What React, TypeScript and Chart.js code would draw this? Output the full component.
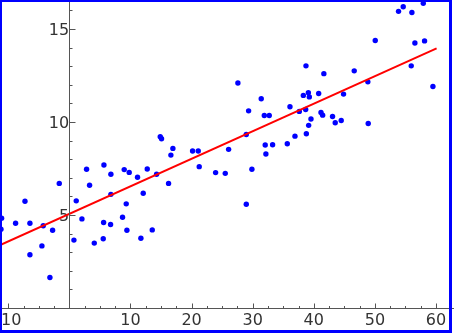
import React, { useEffect, useRef } from "react";
import { Chart, registerables } from "chart.js";

Chart.register(...registerables);

const xValues = [
  -11.1, -11.2, -8.81, -7.27, -6.46, -6.46, -4.28, -4.5, -3.19, -2.75, -1.66,
  0.74, 1.12, 2.05, 2.81, 3.3, 4.07, 5.65, 5.6, 5.54, 6.79, 6.79, 6.74, 8.7,
  8.97, 9.3, 9.41, 9.79, 11.15, 11.7, 12.08, 12.74, 13.56, 14.27, 14.87, 15.08,
  16.23, 16.61, 16.94, 20.16, 21.09, 21.25, 23.93, 25.51, 26.06, 27.58, 28.95,
  28.95, 29.33, 29.87, 31.4, 31.9, 32.05, 32.16, 32.71, 33.26, 35.66, 36.1,
  36.92, 37.63, 38.29, 38.67, 38.72, 38.78, 39.11, 39.27, 39.16, 39.54, 40.8,
  41.18, 41.45, 41.65, 43.07, 43.51, 44.49, 44.87, 46.62, 48.85, 48.91, 50.06,
  53.87, 54.64, 56.06, 55.95, 56.55, 57.92, 58.13, 59.5,
];
const yValues = [
  4.83, 4.24, 4.56, 5.74, 4.56, 2.86, 4.42, 3.34, 1.64, 4.18, 6.7,
  3.65, 5.76, 4.79, 7.46, 6.6, 3.49, 7.69, 4.6, 3.72, 7.19, 6.11, 4.49, 4.88,
  7.44, 5.6, 4.18, 7.29, 7.03, 3.75, 6.17, 7.47, 4.2, 7.19, 9.21, 9.1,
  6.7, 8.22, 8.58, 8.44, 8.44, 7.6, 7.28, 7.24, 8.53, 12.1, 9.33,
  5.58, 10.6, 7.46, 11.25, 10.35, 8.76, 8.28, 10.35, 8.78, 8.83, 10.82,
  9.24, 10.57, 11.43, 10.67, 13.02, 9.37, 11.57, 11.35, 9.82, 10.16, 11.53,
  10.51, 10.37, 12.6, 10.3, 9.96, 10.08, 11.5, 12.75, 12.16, 9.92, 14.38,
  15.95, 16.2, 15.89, 13.02, 14.25, 16.38, 14.36, 11.91,
];

// Regression line end points
const fitX = [-12, 60.1];
const fitY = [3.29, 13.96];

// Axes
const xTickValues = [-10, 10, 20, 30, 40, 50, 60];
const xTickLabels = ["-10", "10", "20", "30", "40", "50", "60"];
const yTickValues = [5, 10, 15];
const yTickLabels = ["5", "10", "15"];
const xRange = [-11.36, 62.95];
const yRange = [0, 16.56];
const yLabelAnchorX = -0.03; // y labels sit just left of the x = 0 spine

const AXIS = "#555555";
const TEXT = "#333333";

const innerTicks = {
  id: "innerTicks",
  afterDraw(chart: any) {
    const ctx = chart.ctx;
    const xs = chart.scales.x;
    const ys = chart.scales.y;
    const area = chart.chartArea;
    const x0 = Math.round(xs.getPixelForValue(0)) + 0.5;
    const yb = Math.round(ys.getPixelForValue(0)) + 0.5;
    ctx.save();
    ctx.strokeStyle = AXIS;
    ctx.lineWidth = 1;
    ctx.beginPath();
    // y spine at x = 0
    ctx.moveTo(x0, area.top);
    ctx.lineTo(x0, yb);
    for (let i = 0; i <= 29; i++) {
      const v = -10 + i * 2.5;
      const major = i % 4 === 0;
      const px = Math.round(xs.getPixelForValue(v)) + 0.5;
      ctx.moveTo(px, yb);
      ctx.lineTo(px, yb - (major ? 5 : 2.5));
    }
    for (let v = 1; v <= 16; v++) {
      const major = v % 5 === 0;
      const py = Math.round(ys.getPixelForValue(v)) + 0.5;
      ctx.moveTo(x0, py);
      ctx.lineTo(x0 + (major ? 6 : 3), py);
    }
    ctx.stroke();
    ctx.restore();
  },
};

export default function App() {
  const ref = useRef<HTMLCanvasElement>(null);

  useEffect(() => {
    if (!ref.current) return;
    const font = { family: "'DejaVu Sans'", size: 16 };
    const chart = new Chart(ref.current, {
      data: {
        datasets: [
          {
            type: "line",
            data: fitX.map((x, i) => ({ x, y: fitY[i] })),
            borderColor: "#ff0000",
            borderWidth: 2,
            pointRadius: 0,
            fill: false,
            order: 0,
          },
          {
            type: "scatter",
            data: xValues.map((x, i) => ({ x, y: yValues[i] })),
            backgroundColor: "#0000ff",
            borderWidth: 0,
            pointRadius: 2.7,
            order: 1,
          },
        ],
      } as any,
      options: {
        animation: false,
        responsive: false,
        devicePixelRatio: 1,
        layout: { padding: 0, autoPadding: false },
        plugins: { legend: { display: false }, tooltip: { enabled: false } },
        scales: {
          x: {
            type: "linear",
            position: "bottom",
            min: xRange[0],
            max: xRange[1],
            afterBuildTicks: (s: any) => {
              s.ticks = xTickValues.map((v) => ({ value: v }));
            },
            afterFit: (s: any) => {
              s.paddingLeft = 0;
              s.paddingRight = 0;
              s.height = 26;
            },
            grid: {
              drawOnChartArea: false,
              tickColor: "rgba(0,0,0,0)",
              tickLength: 3,
            },
            border: { color: AXIS, width: 1 },
            ticks: {
              font,
              color: TEXT,
              padding: 0,
              maxRotation: 0,
              autoSkip: false,
              callback: (v: any) => {
                const i = xTickValues.indexOf(Number(v));
                return i >= 0 ? xTickLabels[i] : "";
              },
            },
          },
          y: {
            type: "linear",
            position: { x: yLabelAnchorX } as any,
            min: yRange[0],
            max: yRange[1],
            afterBuildTicks: (s: any) => {
              s.ticks = yTickValues.map((v) => ({ value: v }));
            },
            afterFit: (s: any) => {
              s.paddingTop = 0;
              s.paddingBottom = 0;
            },
            grid: {
              drawOnChartArea: false,
              display: true,
              tickColor: "rgba(0,0,0,0)",
              tickLength: 0,
            },
            border: { display: false },
            ticks: {
              font,
              color: TEXT,
              autoSkip: false,
              labelOffset: 1.5,
              callback: (v: any) => {
                const i = yTickValues.indexOf(Number(v));
                return i >= 0 ? yTickLabels[i] : "";
              },
            },
          },
        },
      } as any,
      plugins: [innerTicks],
    });
    return () => chart.destroy();
  }, []);

  return (
    <div
      style={{
        position: "fixed",
        left: 0,
        top: 0,
        width: 454,
        height: 334,
        background: "#ffffff",
        overflow: "hidden",
      }}
    >
      <canvas
        ref={ref}
        width={454}
        height={334}
        style={{ display: "block", width: 454, height: 334 }}
      />
      <div
        style={{
          position: "absolute",
          left: 0,
          top: 0,
          width: 452,
          height: 333,
          boxSizing: "border-box",
          borderTop: "2px solid #0000ff",
          borderLeft: "2px solid #0000ff",
          borderRight: "3px solid #0000ff",
          borderBottom: "3px solid #0000ff",
          pointerEvents: "none",
        }}
      />
    </div>
  );
}
